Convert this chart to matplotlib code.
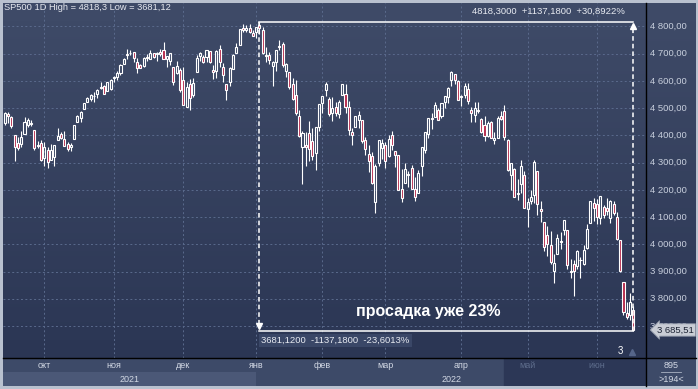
import numpy as np
import pandas as pd
import matplotlib
matplotlib.use('Agg')
import matplotlib.pyplot as plt
import matplotlib.transforms as mtransforms
from matplotlib.colors import LinearSegmentedColormap

plt.rcParams['font.family'] = ['Liberation Sans', 'DejaVu Sans']

# trading days, SP500 daily candles
holidays = ['2021-11-25', '2021-12-24', '2022-01-17', '2022-02-21', '2022-04-15', '2022-05-30']
dates = pd.bdate_range('2021-09-15', '2022-06-16', freq='C', holidays=holidays)

opens = [4447, 4477, 4469, 4402, 4374, 4367, 4406, 4439, 4443, 4419, 4363, 4371,
         4317, 4348, 4310, 4320, 4384, 4406, 4386, 4368, 4358, 4386, 4448, 4463, 4497, 4524, 4532, 4546, 4553, 4579, 4580, 4562, 4572,
         4610, 4613, 4630, 4662, 4700, 4701, 4707, 4670, 4659, 4655, 4689, 4679, 4701, 4700, 4708, 4712, 4679, 4675, 4650, 4628, 4640,
         4602, 4505, 4589, 4548, 4632, 4690, 4688, 4688, 4711, 4642, 4637, 4719, 4652, 4588, 4595, 4645, 4703, 4733, 4795, 4788, 4795, 4776,
         4778, 4804, 4788, 4693, 4697, 4655, 4670, 4728, 4734, 4637, 4632, 4588, 4548, 4471, 4356, 4366, 4408, 4380, 4337, 4431,
         4519, 4566, 4535, 4482, 4505, 4480, 4548, 4553, 4506, 4413, 4430, 4456, 4456, 4385, 4332, 4325, 4155, 4298, 4354,
         4363, 4323, 4401, 4342, 4327, 4202, 4224, 4253, 4280, 4202, 4188, 4288, 4345, 4407, 4462, 4469, 4494, 4470, 4522, 4541, 4603, 4624, 4599,
         4541, 4547, 4572, 4494, 4474, 4494, 4462, 4438, 4397, 4449, 4385, 4390, 4473, 4489, 4385, 4256, 4278, 4187, 4223, 4254,
         4131, 4159, 4181, 4270, 4128, 4082, 4036, 3998, 3903, 3964, 4013, 4052, 4052, 3900, 3927, 3920, 3942, 3929, 3985, 4077, 4151,
         4149, 4096, 4137, 4135, 4097, 4148, 4102, 4017, 3860, 3748, 3740, 3760]
highs = [4486, 4486, 4471, 4403, 4394, 4416, 4466, 4463, 4457, 4419, 4381, 4382,
         4375, 4356, 4369, 4365, 4429, 4412, 4415, 4375, 4372, 4439, 4475, 4488, 4520, 4540, 4551, 4559, 4572, 4598, 4584, 4597, 4608,
         4620, 4635, 4663, 4684, 4718, 4714, 4708, 4685, 4664, 4688, 4698, 4714, 4701, 4708, 4717, 4744, 4691, 4702, 4650, 4673, 4647,
         4652, 4595, 4608, 4612, 4694, 4705, 4695, 4713, 4711, 4660, 4712, 4731, 4667, 4588, 4651, 4698, 4740, 4791, 4808, 4804, 4808, 4787,
         4797, 4818.3, 4797, 4726, 4707, 4673, 4714, 4749, 4744, 4666, 4632, 4612, 4603, 4494, 4417, 4411, 4453, 4428, 4432, 4516,
         4546, 4595, 4542, 4540, 4521, 4531, 4590, 4588, 4527, 4427, 4472, 4490, 4456, 4395, 4363, 4340, 4295, 4385, 4388,
         4375, 4401, 4417, 4343, 4327, 4277, 4300, 4268, 4292, 4248, 4272, 4358, 4412, 4465, 4481, 4522, 4501, 4520, 4546, 4576, 4637, 4627, 4604,
         4549, 4593, 4593, 4504, 4521, 4521, 4464, 4471, 4453, 4453, 4411, 4471, 4489, 4513, 4386, 4300, 4279, 4240, 4308, 4270,
         4169, 4200, 4308, 4270, 4158, 4082, 4069, 4050, 3965, 4039, 4047, 4089, 4052, 3945, 3943, 3981, 3955, 3999, 4076, 4158, 4169,
         4167, 4177, 4143, 4169, 4164, 4160, 4119, 4017, 3862, 3790, 3820, 3772]
lows = [4438, 4447, 4427, 4306, 4347, 4359, 4406, 4431, 4436, 4346, 4353, 4306,
        4289, 4279, 4310, 4289, 4384, 4386, 4360, 4342, 4341, 4386, 4448, 4448, 4496, 4524, 4526, 4524, 4537, 4569, 4552, 4562, 4567,
        4595, 4604, 4621, 4662, 4681, 4694, 4670, 4631, 4648, 4651, 4672, 4679, 4684, 4672, 4692, 4680, 4650, 4660, 4585, 4626, 4560,
        4511, 4504, 4495, 4541, 4632, 4674, 4665, 4671, 4666, 4607, 4612, 4651, 4598, 4531, 4583, 4645, 4703, 4733, 4781, 4778, 4776, 4765,
        4758, 4774, 4700, 4671, 4663, 4582, 4638, 4712, 4650, 4614, 4569, 4530, 4475, 4395, 4222, 4288, 4305, 4309, 4273, 4415,
        4483, 4545, 4471, 4452, 4471, 4465, 4548, 4484, 4402, 4364, 4430, 4429, 4374, 4327, 4267, 4222, 4114, 4287, 4315,
        4279, 4322, 4346, 4284, 4199, 4157, 4224, 4210, 4202, 4161, 4188, 4251, 4335, 4390, 4425, 4469, 4455, 4465, 4501, 4518, 4582, 4589, 4530,
        4507, 4539, 4514, 4451, 4450, 4482, 4408, 4381, 4395, 4392, 4368, 4390, 4455, 4384, 4268, 4200, 4175, 4162, 4188, 4132,
        4063, 4148, 4152, 4107, 4081, 3976, 3958, 3929, 3859, 3964, 3984, 4034, 3911, 3877, 3810, 3909, 3875, 3925, 3984, 4077, 4084,
        4074, 4074, 4097, 4109, 4080, 4107, 4017, 3900, 3740, 3725, 3723, 3681.12]
closes = [4481, 4473, 4433, 4358, 4354, 4395, 4448, 4455, 4443, 4352, 4360, 4308,
          4357, 4301, 4346, 4364, 4399, 4391, 4361, 4351, 4364, 4438, 4471, 4486, 4520, 4537, 4550, 4545, 4567, 4575, 4552, 4596, 4605,
          4614, 4631, 4660, 4680, 4697, 4702, 4685, 4646, 4649, 4683, 4683, 4701, 4689, 4704, 4698, 4682, 4690, 4701, 4595, 4655, 4567,
          4513, 4577, 4538, 4592, 4686, 4701, 4668, 4712, 4669, 4634, 4710, 4669, 4621, 4568, 4649, 4697, 4726, 4791, 4786, 4793, 4778, 4766,
          4797, 4794, 4701, 4696, 4677, 4670, 4713, 4726, 4659, 4663, 4577, 4533, 4483, 4398, 4410, 4357, 4350, 4326, 4432, 4516,
          4546, 4589, 4477, 4501, 4484, 4522, 4587, 4504, 4419, 4402, 4472, 4475, 4381, 4349, 4305, 4226, 4288, 4385, 4374,
          4306, 4387, 4364, 4329, 4201, 4171, 4278, 4260, 4204, 4173, 4262, 4358, 4412, 4463, 4461, 4512, 4457, 4520, 4543, 4575, 4632, 4602, 4530,
          4546, 4583, 4525, 4481, 4500, 4488, 4413, 4397, 4447, 4392, 4391, 4463, 4459, 4394, 4272, 4297, 4175, 4184, 4288, 4132,
          4155, 4175, 4301, 4147, 4123, 3991, 4001, 3935, 3930, 4024, 4008, 4088, 3923, 3901, 3901, 3974, 3941, 3979, 4058, 4158, 4132,
          4101, 4176, 4109, 4121, 4161, 4116, 4018, 3901, 3750, 3735, 3790, 3685.51]

price_ticks = [3700, 3800, 3900, 4000, 4100, 4200, 4300, 4400, 4500, 4600, 4700, 4800]
month_names = ['окт', 'ноя', 'дек', 'янв', 'фев', 'мар', 'апр', 'май', 'июн']

W, H = 698, 389


def box(x0, y0, x1, y1):
    return [x0 / W, 1 - y1 / H, (x1 - x0) / W, (y1 - y0) / H]


def gradient(axis, top, bottom):
    cmap = LinearSegmentedColormap.from_list('bg', [bottom, top])
    axis.imshow(np.linspace(0, 1, 256).reshape(-1, 1), cmap=cmap, origin='lower',
                extent=[0, 1, 0, 1], transform=axis.transAxes, aspect='auto', zorder=0)


o = np.array(opens, float)
h = np.array(highs, float)
l = np.array(lows, float)
c = np.array(closes, float)
n = len(c)
x = np.arange(n)

fig = plt.figure(figsize=(W / 100, H / 100), dpi=100)
fig.patch.set_facecolor('#b9c1cf')

ax = fig.add_axes(box(3, 3, 646, 358))
gradient(ax, '#3f4b68', '#2b3654')
ax.set_xlim(-0.5, 193.8)
ax.set_ylim(3582.6, 4886.3)
ax.set_axis_off()

# month starts
month_idx = [i for i in range(1, n) if dates[i].month != dates[i - 1].month]
grid_kw = dict(color='#5a6a8c', lw=0.7, dashes=(2, 2.5), zorder=1)
for p in price_ticks:
    ax.axhline(p, **grid_kw)
for i in month_idx:
    ax.axvline(i, **grid_kw)

# candles
up = c >= o
body_lo = np.minimum(o, c)
body_hi = np.maximum(o, c)
body_h = np.maximum(body_hi - body_lo, 1.5)
ax.vlines(x, l, body_lo, color='white', lw=0.8, zorder=3)
ax.vlines(x, body_hi, h, color='white', lw=0.8, zorder=3)
ax.bar(x[up], body_h[up], bottom=body_lo[up], width=0.62, facecolor='none',
       edgecolor='white', linewidth=0.8, zorder=4)
ax.bar(x[~up], body_h[~up], bottom=body_lo[~up], width=0.62, facecolor='#b52a4c',
       edgecolor='white', linewidth=0.8, zorder=4)

# drawdown measurement
i_hi = int(np.argmax(h))
i_lo = int(np.argmin(l))
hi, lo = h[i_hi], l[i_lo]
ax.plot([i_hi, i_lo], [hi, hi], color='white', lw=1.1, zorder=5)
ax.plot([i_hi, i_lo], [lo, lo], color='white', lw=1.1, zorder=5)
ax.plot([i_hi, i_hi], [hi, lo + 15], color='white', lw=1.1, dashes=(3, 2), zorder=5)
ax.plot([i_lo, i_lo], [lo, hi - 15], color='white', lw=1.1, dashes=(3, 2), zorder=5)
ax.plot(i_hi, lo + 18, marker='v', ms=4, color='white', zorder=6)
ax.plot(i_lo, hi - 18, marker='^', ms=4, color='white', zorder=6)

diff = hi - lo
fmt = lambda v: f'{v:.4f}'.replace('.', ',')
ax.text(i_lo - 2.5, hi + 20, f'{fmt(hi)}  +{fmt(diff)}  +{fmt(diff / lo * 100)}%',
        ha='right', va='bottom', color='#e8ebf2', fontsize=6.8, zorder=6)
ax.text(i_hi + 0.5, lo - 18, f'{fmt(lo)}  -{fmt(diff)}  -{fmt(diff / hi * 100)}%',
        ha='left', va='top', color='#e8ebf2', fontsize=6.8, zorder=6,
        bbox=dict(boxstyle='square,pad=0.25', fc='#3a4767', ec='none'))
ax.text(128, 3752, 'просадка уже 23%', ha='center', va='center', color='white',
        fontsize=11.5, fontweight='bold', zorder=6)

ax.text(186, 3610, '3', ha='center', va='center', color='white', fontsize=7, zorder=6)
ax.plot(189.5, 3605, marker='^', ms=4, color='#56668a', zorder=6)

fig.text(4 / W, 1 - 8 / H, f'SP500 1D High = {h.max():.1f} Low = {l.min():.2f}'.replace('.', ','),
         ha='left', va='center', color='#e6e9f0', fontsize=6.7)

# price axis
axr = fig.add_axes(box(646, 3, 696, 358), sharey=ax)
gradient(axr, '#3f4b68', '#2c3755')
axr.set_xlim(0, 1)
axr.set_axis_off()
for p in price_ticks:
    axr.text(0.08, p, f'{p:,.2f}'.replace(',', ' ').replace('.', ','), ha='left', va='center',
             color='#c8cfdd', fontsize=6.8)
axr.annotate(f'{c[-1]:,.2f}'.replace(',', ' ').replace('.', ','), xy=(0.22, c[-1]),
             xycoords=mtransforms.blended_transform_factory(axr.transAxes, axr.transData),
             ha='left', va='center', color='#1c2333', fontsize=6.8, zorder=10,
             bbox=dict(boxstyle='larrow,pad=0.18', fc='#c9cdd5', ec='#8e96a6', lw=0.6))

# time axis
axt = fig.add_axes(box(3, 358, 646, 386), sharex=ax)
axt.set_ylim(0, 1)
axt.set_axis_off()
axt.axvspan(-0.5, 193.8, color='#3d4a68', zorder=0)
jan_idx = month_idx[3]
axt.fill_between([-0.5, jan_idx], 0, 0.5, color='#4b5877', lw=0, zorder=1)
axt.axvspan(151, 193.8, color='#2c3756', zorder=1)
for i, name in zip(month_idx, month_names):
    col = '#5e6d8c' if dates[i].month in (5, 6) else '#d2d8e4'
    axt.text(i, 0.74, name, ha='center', va='center', color=col, fontsize=6.5)
axt.text((jan_idx - 0.5) / 2, 0.25, '2021', ha='center', va='center', color='#d2d8e4', fontsize=6.5)
axt.text((jan_idx + 193.8) / 2, 0.25, '2022', ha='center', va='center', color='#d2d8e4', fontsize=6.5)

# corner box
axc = fig.add_axes(box(646, 358, 696, 386))
axc.set_xlim(0, 1)
axc.set_ylim(0, 1)
axc.set_axis_off()
axc.axvspan(0, 1, color='#3d4a68')
axc.text(0.5, 0.73, '895', ha='center', va='center', color='#d2d8e4', fontsize=6.5)
axc.plot([0.3, 0.7], [0.5, 0.5], color='#aab3c4', lw=0.6)
axc.text(0.5, 0.25, '>194<', ha='center', va='center', color='#d2d8e4', fontsize=6.5)

# separators
fig.add_artist(plt.Line2D([646 / W, 646 / W], [1 - 386 / H, 1 - 3 / H], color='black', lw=1))
fig.add_artist(plt.Line2D([3 / W, 696 / W], [1 - 358 / H, 1 - 358 / H], color='black', lw=1))

fig.savefig('out.png', dpi=100, facecolor=fig.get_facecolor())
